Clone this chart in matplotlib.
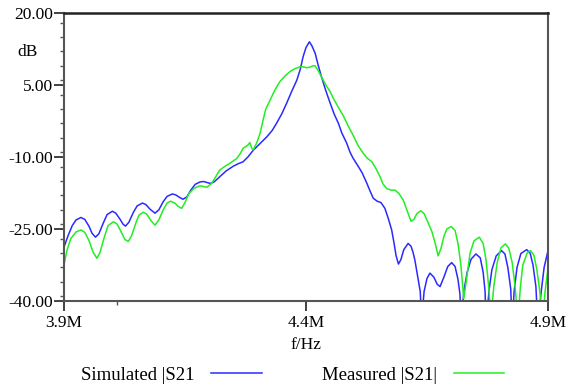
import matplotlib
matplotlib.use("Agg")
import matplotlib.pyplot as plt
from matplotlib.ticker import FixedLocator, MultipleLocator

plt.rcParams['font.family'] = ['Liberation Serif', 'DejaVu Serif']
plt.rcParams['axes.unicode_minus'] = False

# frequency in MHz, |S21| in dB
fSim = [3.900, 3.908, 3.917, 3.925, 3.935, 3.943, 3.952, 3.958, 3.965, 3.972,
        3.981, 3.989, 4.000, 4.007, 4.016, 4.022, 4.027, 4.034, 4.043, 4.051,
        4.062, 4.069, 4.078, 4.088, 4.096, 4.105, 4.113, 4.124, 4.131, 4.140,
        4.146, 4.154, 4.162, 4.171, 4.181, 4.188, 4.195, 4.202, 4.210, 4.222,
        4.235, 4.250, 4.260, 4.270, 4.280, 4.291, 4.305, 4.319, 4.330, 4.339,
        4.350, 4.360, 4.371, 4.381, 4.388, 4.394, 4.400, 4.407, 4.412, 4.419,
        4.425, 4.432, 4.441, 4.450, 4.458, 4.467, 4.474, 4.484, 4.491, 4.497,
        4.507, 4.516, 4.525, 4.532, 4.539, 4.547, 4.555, 4.563, 4.570, 4.577,
        4.582, 4.586, 4.591, 4.596, 4.602, 4.611, 4.617, 4.621, 4.625, 4.631,
        4.636, 4.639, 4.644, 4.650, 4.656, 4.664, 4.671, 4.677, 4.685, 4.693,
        4.701, 4.708, 4.714, 4.718, 4.721, 4.726, 4.733, 4.741, 4.751, 4.760,
        4.766, 4.770, 4.772, 4.778, 4.784, 4.793, 4.804, 4.811, 4.817, 4.823,
        4.826, 4.830, 4.836, 4.844, 4.856, 4.863, 4.869, 4.875, 4.879, 4.886,
        4.892, 4.900]
s21Sim = [-28.8, -26.5, -24.3, -23.1, -22.6, -23.0, -24.5, -25.9, -26.7, -26.0,
          -23.8, -22.0, -21.3, -21.7, -23.0, -24.0, -24.4, -23.6, -21.6, -20.2,
          -19.6, -19.9, -20.9, -21.7, -21.0, -19.3, -18.2, -17.7, -17.9, -18.5,
          -18.8, -18.3, -16.9, -15.7, -15.2, -15.1, -15.3, -15.5, -15.2, -14.1,
          -12.9, -11.9, -11.4, -11.0, -10.0, -8.6, -7.2, -5.8, -4.5, -3.0,
          -1.0, 1.2, 3.8, 6.0, 8.2, 10.9, 12.8, 14.0, 13.2, 11.6,
          9.2, 6.7, 3.8, 1.2, -1.0, -3.0, -5.0, -7.1, -9.0, -10.2,
          -11.8, -13.3, -15.3, -17.0, -18.6, -19.2, -19.5, -20.7, -22.8, -25.2,
          -28.0, -30.5, -32.3, -31.4, -29.3, -28.0, -28.6, -29.8, -31.5, -35.0,
          -38.0, -44.0, -38.0, -35.3, -34.2, -35.0, -36.5, -37.0, -35.0, -32.8,
          -32.0, -32.8, -35.5, -38.5, -45.0, -38.0, -34.0, -31.3, -30.2, -31.0,
          -34.0, -38.0, -45.0, -38.0, -33.5, -30.6, -29.5, -30.2, -33.0, -37.5,
          -45.0, -38.0, -33.0, -30.1, -29.3, -30.0, -32.5, -37.0, -45.0, -38.0,
          -33.0, -29.5]

fMes = [3.900, 3.906, 3.914, 3.925, 3.935, 3.943, 3.952, 3.960, 3.968, 3.974,
        3.983, 3.991, 4.002, 4.010, 4.018, 4.026, 4.033, 4.040, 4.049, 4.055,
        4.064, 4.071, 4.080, 4.088, 4.096, 4.105, 4.113, 4.120, 4.129, 4.136,
        4.143, 4.150, 4.158, 4.169, 4.181, 4.195, 4.205, 4.214, 4.222, 4.233,
        4.243, 4.257, 4.264, 4.270, 4.276, 4.281, 4.284, 4.288, 4.291, 4.298,
        4.305, 4.312, 4.317, 4.326, 4.336, 4.346, 4.357, 4.367, 4.377, 4.388,
        4.394, 4.401, 4.408, 4.414, 4.419, 4.425, 4.432, 4.441, 4.450, 4.456,
        4.466, 4.477, 4.487, 4.498, 4.507, 4.518, 4.526, 4.536, 4.545, 4.553,
        4.559, 4.567, 4.576, 4.584, 4.592, 4.601, 4.609, 4.617, 4.623, 4.629,
        4.637, 4.644, 4.652, 4.660, 4.667, 4.673, 4.679, 4.685, 4.691, 4.700,
        4.708, 4.714, 4.720, 4.726, 4.733, 4.739, 4.747, 4.758, 4.766, 4.772,
        4.778, 4.782, 4.788, 4.795, 4.803, 4.812, 4.819, 4.826, 4.832, 4.838,
        4.843, 4.848, 4.857, 4.864, 4.871, 4.877, 4.883, 4.889, 4.894, 4.900]
s21Mes = [-32.5, -29.5, -27.0, -25.6, -25.2, -25.7, -27.5, -29.8, -31.1, -30.0,
          -26.8, -24.3, -23.5, -24.0, -25.6, -27.2, -27.6, -26.3, -23.6, -22.1,
          -21.5, -21.9, -23.3, -24.2, -23.1, -21.0, -19.6, -19.2, -19.6, -20.3,
          -20.7, -19.5, -17.6, -16.5, -16.0, -16.3, -15.5, -14.0, -12.7, -11.9,
          -11.3, -10.3, -9.3, -8.2, -7.8, -7.4, -7.0, -8.2, -8.5, -7.1,
          -5.1, -2.0, 0.0, 1.9, 4.0, 5.7, 6.9, 7.8, 8.4, 8.8,
          8.8, 8.6, 8.7, 9.0, 9.0, 8.0, 6.7, 5.0, 3.6, 2.3,
          0.5, -1.4, -3.5, -5.6, -7.5, -9.2, -10.2, -11.0, -12.5, -14.1,
          -15.6, -16.6, -16.9, -16.9, -17.6, -19.0, -21.2, -23.4, -23.0, -21.8,
          -21.2, -21.8, -23.6, -25.5, -28.0, -30.6, -29.0, -26.5, -25.0, -24.5,
          -25.3, -28.0, -32.5, -39.5, -34.5, -30.0, -27.5, -26.7, -28.0, -31.5,
          -37.5, -44.0, -37.0, -32.0, -28.9, -28.1, -29.0, -32.0, -37.0, -44.0,
          -37.0, -32.5, -30.0, -29.5, -30.5, -33.5, -38.0, -44.0, -38.0, -33.2]

xTicks = [3.9, 4.4, 4.9]
xTickLabels = ["3.9M", "4.4M", "4.9M"]
yTicks = [-40, -25, -10, 5, 20]

fig = plt.figure(figsize=(5.75, 3.85), dpi=100)
ax = fig.add_axes([64/575, 1-301/385, 484/575, 288/385])

ligneSim, = ax.plot(fSim, s21Sim, color="#2a2aff", linewidth=1.1)
ligneMes, = ax.plot(fMes, s21Mes, color="#22ee22", linewidth=1.1)

ax.set_xlim(3.9, 4.9)
ax.set_ylim(-40, 20)

ax.set_xticks(xTicks)
ax.set_xticklabels(xTickLabels)
ax.xaxis.set_minor_locator(FixedLocator([4.01]))
ax.set_yticks(yTicks)
ax.set_yticklabels(["%.2f" % v for v in yTicks])
ax.yaxis.set_minor_locator(MultipleLocator(3))

ax.tick_params(which="major", direction="out", length=7, width=1.2, labelsize=12.5, color="#222222")
ax.tick_params(which="minor", direction="out", length=3, width=1.0, color="#555555")
ax.tick_params(axis="y", which="major", pad=1)
ax.tick_params(axis="x", which="major", pad=3)

for cote in ["left", "bottom", "right"]:
    ax.spines[cote].set_color("#555555")
    ax.spines[cote].set_linewidth(1.5)
ax.spines["top"].set_color("#222222")
ax.spines["top"].set_linewidth(1.8)

fig.text(28/575, 1-52/385, "dB", ha="center", va="center", fontsize=12.5)
fig.text(306/575, 1-345/385, "f/Hz", ha="center", va="center", fontsize=12.5)

fig.legend([ligneSim, ligneMes], ["Simulated |S21", "Measured |S21|"],
           loc="center", bbox_to_anchor=(0.509, 1-375/385), ncol=2,
           frameon=False, markerfirst=False, fontsize=13.5,
           handlelength=2.7, handletextpad=0.9, columnspacing=3.2)

fig.savefig("out.png", dpi=100)
